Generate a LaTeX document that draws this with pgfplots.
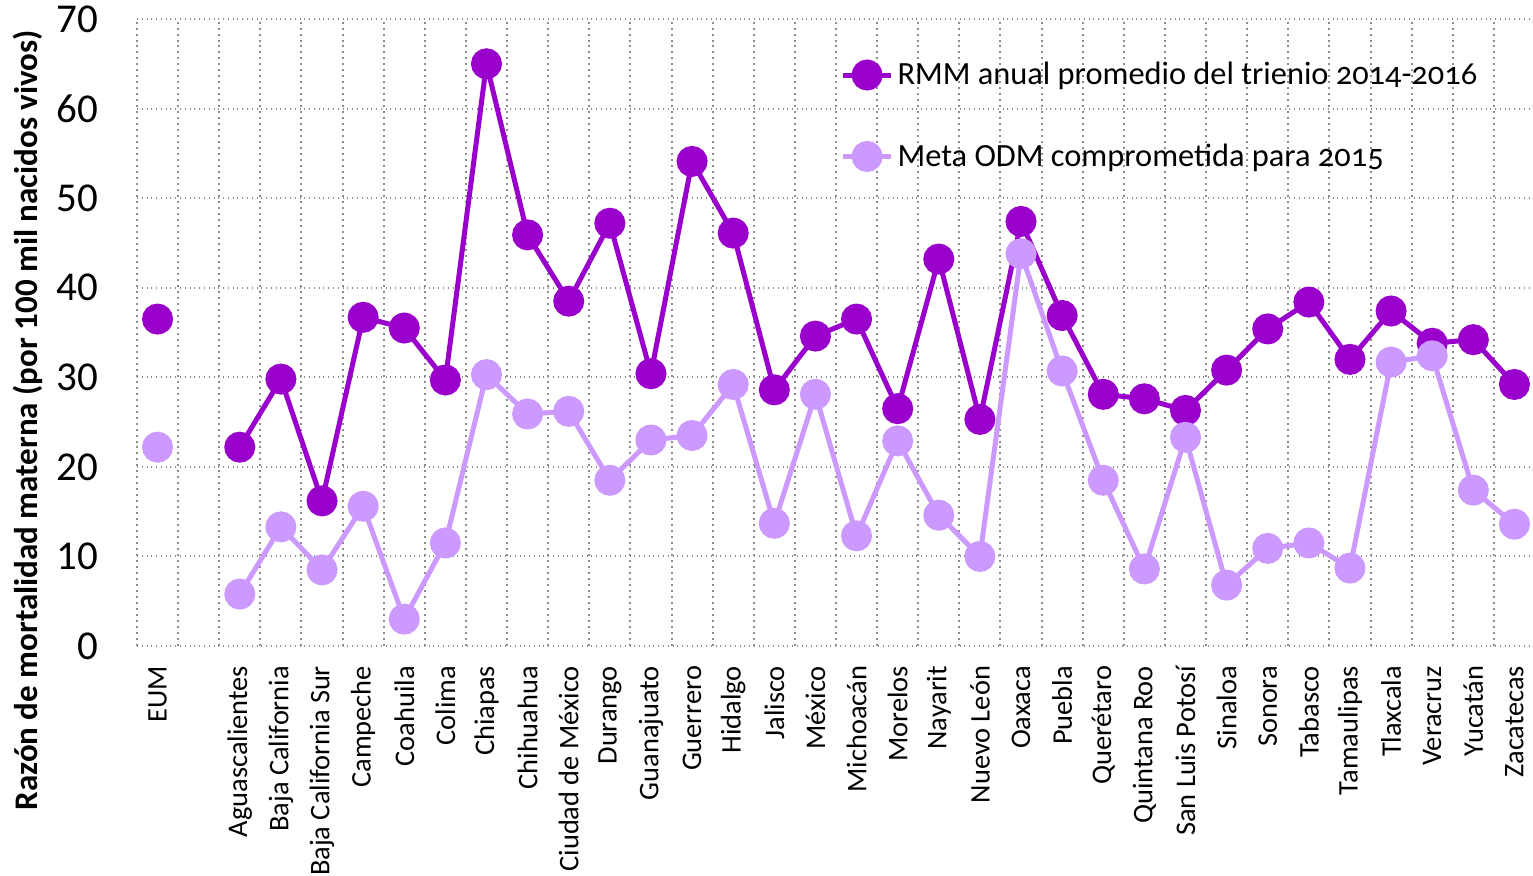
\documentclass[border=0pt]{standalone}
\usepackage{pgfplots}
\pgfplotsset{compat=1.18}
\usepackage{pgfplotstable}
\usepackage{fontspec}
\setmainfont{Carlito}
\definecolor{rmm}{HTML}{9900CC}
\definecolor{meta}{HTML}{CC99FF}
\definecolor{gridc}{HTML}{8C8C8C}
\pgfplotstableread{
x rmm meta
0 36.5 22.2
1 nan nan
2 22.2 5.8
3 29.8 13.3
4 16.2 8.5
5 36.7 15.6
6 35.5 3.0
7 29.7 11.5
8 65.0 30.3
9 45.9 25.9
10 38.5 26.2
11 47.2 18.5
12 30.4 23.0
13 54.1 23.5
14 46.1 29.2
15 28.6 13.7
16 34.6 28.1
17 36.5 12.3
18 26.5 22.9
19 43.2 14.6
20 25.3 10.0
21 47.4 43.8
22 36.9 30.7
23 28.1 18.5
24 27.6 8.6
25 26.3 23.3
26 30.8 6.8
27 35.4 10.9
28 38.4 11.5
29 32.0 8.7
30 37.4 31.7
31 33.8 32.4
32 34.2 17.4
33 29.2 13.6
}\data
\begin{document}
\begin{tikzpicture}
\begin{axis}[
  at={(0,0)}, anchor=south west,
  width=699bp, height=313.5bp, scale only axis,
  xmin=-0.5, xmax=33.5, ymin=0, ymax=70,
  ytick={0,10,...,70},
  xtick={0,2,3,...,33},
  xticklabels={EUM,Aguascalientes,Baja California,Baja California Sur,Campeche,Coahuila,Colima,Chiapas,Chihuahua,Ciudad de México,Durango,Guanajuato,Guerrero,Hidalgo,Jalisco,México,Michoacán,Morelos,Nayarit,Nuevo León,Oaxaca,Puebla,Querétaro,Quintana Roo,San Luis Potosí,Sinaloa,Sonora,Tabasco,Tamaulipas,Tlaxcala,Veracruz,Yucatán,Zacatecas},
  minor xtick={-0.5,0.5,...,33.5},
  xminorgrids=true, ymajorgrids=true, xmajorgrids=false,
  grid style={gridc, dotted, line width=1bp},
  minor grid style={gridc, dotted, line width=1bp},
  axis line style={draw=none},
  tick style={draw=none},
  major tick length=0pt, minor tick length=0pt,
  /pgf/number format/assume math mode=true,
  xticklabel style={anchor=east, rotate=90, xshift=-6.5bp, font=\fontsize{14.2bp}{16bp}\selectfont},
  yticklabel style={font=\fontsize{20.5bp}{24bp}\selectfont, xshift=-16bp},
  ylabel={Razón de mortalidad materna (por 100 mil nacidos vivos)},
  ylabel style={at={(rel axis cs:-0.078,0.36)}, anchor=center, font=\bfseries\fontsize{16.5bp}{18bp}\selectfont},
  unbounded coords=jump,
  legend style={at={(rel axis cs:0.503,0.938)}, anchor=north west, draw=none, fill=none,
    font=\fontsize{16.2bp}{19bp}\selectfont\addfontfeatures{Numbers=OldStyle}, row sep=24bp, inner sep=0pt,
    cells={anchor=west}},
  legend image code/.code={
    \draw[mark repeat=2,mark phase=2,#1] plot coordinates {(0bp,0bp) (12bp,0bp) (24bp,0bp)};},
  clip=false,
]
\addplot[rmm, line width=2.5bp, mark=*, mark size=6.5bp, mark options={solid, fill=rmm, draw=rmm}] table[x=x,y=rmm]{\data};
\addplot[meta, line width=2.5bp, mark=*, mark size=6.5bp, mark options={solid, fill=meta, draw=meta}] table[x=x,y=meta]{\data};
\legend{{RMM anual promedio del trienio 2014-2016},{Meta ODM comprometida para 2015}}
\end{axis}
\pgfresetboundingbox
\useasboundingbox (-68.5bp,-115bp) rectangle (698bp,323bp);
\end{tikzpicture}
\end{document}
